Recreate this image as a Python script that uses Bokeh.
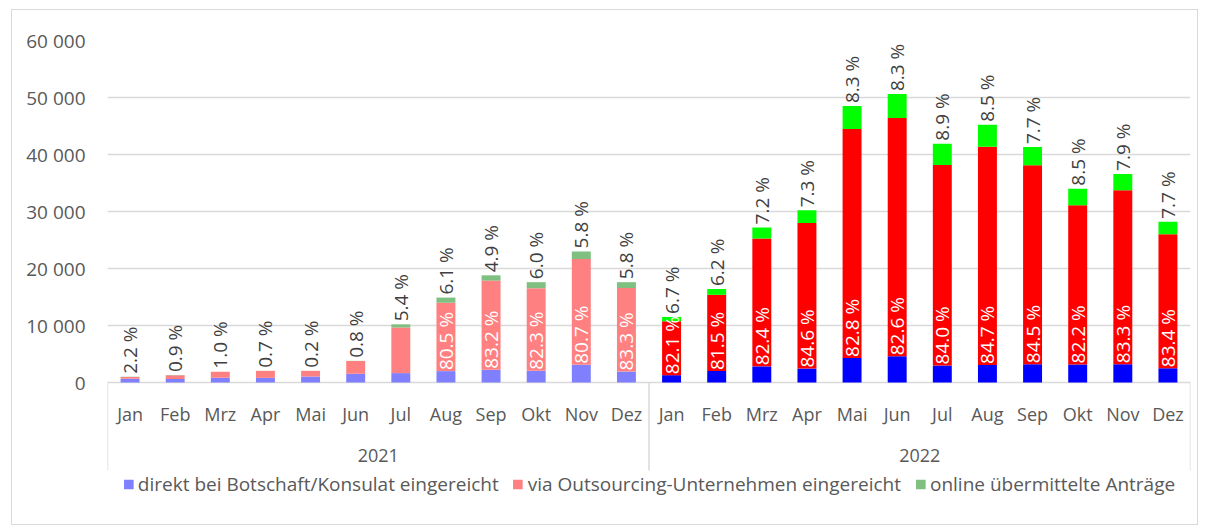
import math
from bokeh.plotting import figure
from bokeh.models import (ColumnDataSource, FactorRange, FixedTicker, Legend,
                          LegendItem, Range1d)
from bokeh.core.properties import value
from bokeh.embed import file_html
from bokeh.resources import INLINE

# ---------------- data ----------------
years = ["2021", "2022"]
months = ["Jan", "Feb", "Mrz", "Apr", "Mai", "Jun",
          "Jul", "Aug", "Sep", "Okt", "Nov", "Dez"]
series_names = ["direkt bei Botschaft/Konsulat eingereicht",
                "via Outsourcing-Unternehmen eingereicht",
                "online übermittelte Anträge"]

direct_2021 = [648, 598, 821, 816, 1046, 1530, 1649, 1996, 2237, 2059, 3105, 1918]
outsourcing_2021 = [330, 690, 1060, 1220, 1000, 2240, 8000, 11995, 15642, 14485, 18561, 14661]
online_2021 = [22, 12, 19, 14, 4, 30, 551, 909, 921, 1056, 1334, 1021]

direct_2022 = [1287, 2017, 2829, 2446, 4316, 4604, 2975, 3074, 3221, 3162, 3221, 2510]
outsourcing_2022 = [9442, 13366, 22413, 25549, 40158, 41796, 35196, 38284, 34899, 27948, 30488, 23519]
online_2022 = [771, 1017, 1958, 2205, 4026, 4200, 3729, 3842, 3180, 2890, 2891, 2171]

# share label of the outsourcing segment is only shown from Aug 2021 on
show_share_2021 = [False] * 7 + [True] * 5
show_share_2022 = [True] * 12

y_ticks = [0, 10000, 20000, 30000, 40000, 50000, 60000]
y_tick_labels = ["0", "10 000", "20 000", "30 000", "40 000", "50 000", "60 000"]

# ---------------- styling ----------------
FONT = "Open Sans"
colors_2021 = ["#8080ff", "#ff8080", "#7fbf7f"]
colors_2022 = ["#0000ff", "#ff0000", "#00ff00"]
GRID = "#d9d9d9"
AXIS_TXT = "#595959"
LABEL_TXT = "#404040"

W, H = 1187, 516
B_LEFT, B_TOP, B_RIGHT, B_BOTTOM = 95, 30, 9, 0
PX_PER_UNIT = 342 / 60000.0          # 60 000 spans 342 px
frame_h = H - B_TOP - B_BOTTOM
y_top = y_ticks[-1]
y_bottom = y_top - frame_h / PX_PER_UNIT


def px_to_units(px):
    return px / PX_PER_UNIT


factors = [(y, m) for y in years for m in months]

p = figure(width=W, height=H,
           x_range=FactorRange(*factors, range_padding=0, group_padding=0,
                               subgroup_padding=0, factor_padding=0),
           y_range=Range1d(y_bottom, y_top),
           output_backend="svg", toolbar_location=None,
           min_border_left=B_LEFT, min_border_top=B_TOP,
           min_border_right=B_RIGHT, min_border_bottom=B_BOTTOM)
p.margin = (9, 0, 0, 11)
p.styles = {"border": "1px solid #d9d9d9"}
p.outline_line_color = None
p.background_fill_color = "white"
p.border_fill_color = "white"

# axes
p.xaxis.visible = False
p.xgrid.visible = False
yax = p.yaxis[0]
yax.ticker = FixedTicker(ticks=y_ticks)
yax.major_label_overrides = {t: l for t, l in zip(y_ticks, y_tick_labels)}
yax.axis_line_color = None
yax.major_tick_line_color = None
yax.minor_tick_line_color = None
yax.major_tick_out = 0
yax.major_label_standoff = 22
yax.major_label_text_font = FONT
yax.major_label_text_font_size = "19px"
yax.major_label_text_color = AXIS_TXT
p.ygrid.ticker = FixedTicker(ticks=y_ticks)
p.ygrid.grid_line_color = GRID
p.ygrid.grid_line_width = 1.5

stack_keys = ["direct", "outsourcing", "online"]
BAR_W = 0.42

src21 = ColumnDataSource(dict(x=[("2021", m) for m in months], direct=direct_2021,
                              outsourcing=outsourcing_2021, online=online_2021))
src22 = ColumnDataSource(dict(x=[("2022", m) for m in months], direct=direct_2022,
                              outsourcing=outsourcing_2022, online=online_2022))
r21 = p.vbar_stack(stack_keys, x="x", width=BAR_W, source=src21,
                   fill_color=colors_2021, line_color=None)
r22 = p.vbar_stack(stack_keys, x="x", width=BAR_W, source=src22,
                   fill_color=colors_2022, line_color=None)

# data labels
all_direct = direct_2021 + direct_2022
all_out = outsourcing_2021 + outsourcing_2022
all_online = online_2021 + online_2022
all_show = show_share_2021 + show_share_2022
totals = [a + b + c for a, b, c in zip(all_direct, all_out, all_online)]

top_src = ColumnDataSource(dict(
    x=factors, y=totals,
    text=[f"{g / t * 100:.1f} %" for g, t in zip(all_online, totals)]))
p.text(x="x", y="y", text="text", source=top_src, angle=math.pi / 2,
       text_align="left", text_baseline="middle", y_offset=-3,
       text_font=value(FONT), text_font_size="19px", text_color=LABEL_TXT)

in_idx = [i for i, s in enumerate(all_show) if s]
in_src = ColumnDataSource(dict(
    x=[factors[i] for i in in_idx], y=[all_direct[i] for i in in_idx],
    text=[f"{all_out[i] / totals[i] * 100:.1f} %" for i in in_idx]))
p.text(x="x", y="y", text="text", source=in_src, angle=math.pi / 2,
       text_align="left", text_baseline="middle", y_offset=-1,
       text_font=value(FONT), text_font_size="19px", text_color="white")

# category axis (two levels) drawn below the baseline
month_src = ColumnDataSource(dict(x=factors, y=[-px_to_units(31)] * len(factors),
                                  text=[m for _, m in factors]))
p.text(x="x", y="y", text="text", source=month_src, text_align="center",
       text_baseline="middle", text_font=value(FONT), text_font_size="18px",
       text_color=AXIS_TXT)
year_src = ColumnDataSource(dict(x=[(y, months[5], 0.5) for y in years],
                                 y=[-px_to_units(73)] * len(years), text=years))
p.text(x="x", y="y", text="text", source=year_src, text_align="center",
       text_baseline="middle", text_font=value(FONT), text_font_size="18px",
       text_color=AXIS_TXT)
sep_x = [(years[0], months[0], -0.5)] + [(y, months[-1], 0.5) for y in years]
sep_src = ColumnDataSource(dict(x0=sep_x, x1=sep_x, y0=[0] * len(sep_x),
                                y1=[-px_to_units(88)] * len(sep_x)))
p.segment(x0="x0", y0="y0", x1="x1", y1="y1", source=sep_src,
          line_color=GRID, line_width=1.5)

# legend
legend = Legend(items=[LegendItem(label=n, renderers=[r]) for n, r in zip(series_names, r21)],
                location="bottom_center", orientation="horizontal",
                label_text_font=FONT, label_text_font_size="19px",
                label_text_color=AXIS_TXT, glyph_width=12, glyph_height=12,
                label_standoff=4, spacing=13, padding=0, margin=29,
                label_height=20, border_line_color=None,
                background_fill_alpha=0)
p.add_layout(legend)

open("out.html", "w").write(file_html(p, INLINE))
